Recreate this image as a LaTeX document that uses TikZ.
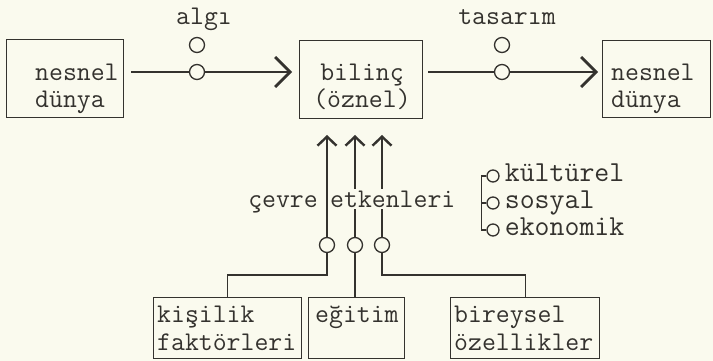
\documentclass[tikz,border=0pt]{standalone}
\usepackage{xcolor}
\usepackage{tikz}
\usetikzlibrary{arrows.meta,positioning}

\definecolor{paper}{RGB}{250,250,238}
\definecolor{ink}{RGB}{52,50,46}

\tikzset{
  box/.style={draw=ink, line width=1.4pt, anchor=north west, inner sep=0pt},
  txt/.style={text=ink, font=\ttfamily\fontsize{27}{28}\selectfont, inner sep=0pt, align=left},
  tag/.style={txt, font=\ttfamily\fontsize{29}{30}\selectfont, text height=17pt, text depth=6pt},
  ring/.style={circle, draw=ink, line width=1.3pt, fill=paper, minimum size=15pt, inner sep=0pt},
  link/.style={draw=ink, line width=1.3pt},
  flow/.style={link, -{Straight Barb[length=15pt,width=30pt,line width=2.8pt]}},
  rise/.style={link, -{Straight Barb[length=9pt,width=19pt,line width=2.4pt]}},
}

\begin{document}
\begin{tikzpicture}[x=1pt,y=-1pt]
\fill[paper] (0,0) rectangle (713,361);
\useasboundingbox (0,0) rectangle (713,361);

% top row
\node[box, minimum width=117pt, minimum height=78pt] (src) at (6,39) {};
\node[box, minimum width=123pt, minimum height=78pt] (mind) at (299,40) {};
\node[box, minimum width=108pt, minimum height=77pt] (dst) at (602,40) {};
\node[txt, anchor=base west] at (35,108) {nesnel\\dünya};
\node[txt, anchor=base, align=center] at (362,108) {bilinç\\(öznel)};
\node[txt, anchor=base west] at (611,108) {nesnel\\dünya};

\node[ring] (al) at (197,72) {};
\node[ring] (al2) at (197,45) {};
\node[txt, anchor=base] at (204,25) {algı};
\node[ring] (ta) at (502,72) {};
\node[ring] (ta2) at (502,45) {};
\node[txt, anchor=base] at (507,25) {tasarım};

\draw[link, shorten <=7pt] (src.east |- al) -- (al);
\draw[flow, shorten >=7pt] (al) -- (al -| mind.west);
\draw[link, shorten <=5pt] (mind.east |- ta) -- (ta);
\draw[flow, shorten >=4pt] (ta) -- (ta -| dst.west);

% influences from below
\node[ring] (c1) at (327,245) {};
\node[ring] (c2) at (355,245) {};
\node[ring] (c3) at (382,245) {};
\coordinate (t1) at (327,135);
\coordinate (t2) at (355,135);
\coordinate (t3) at (382,135);
\draw[rise] (c1) -- (t1);
\draw[rise] (c2) -- (t2);
\draw[rise] (c3) -- (t3);
\node[txt, anchor=base east] (cev) at (318,207) {çevre};
\node[txt, anchor=base west, fill=paper, inner ysep=2pt] (etk) at (330,207) {etkenleri};

\node[box, minimum width=148pt, minimum height=61pt] (kf) at (153,297) {};
\node[box, minimum width=96pt, minimum height=61pt] (eg) at (308,297) {};
\node[box, minimum width=149pt, minimum height=61pt] (bo) at (450,297) {};
\node[txt, anchor=base west] at (157,350) {kişilik\\faktörleri};
\node[txt, anchor=base west] at (315,322) {eğitim};
\node[txt, anchor=base west] at (454,350) {bireysel\\özellikler};

\draw[link] (c1) -- ++(0,30) -| (kf);
\draw[link] (c2) -- (c2 |- eg.north);
\draw[link] (c3) -- ++(0,30) -| (bo);

% kinds of surroundings
\node[ring, minimum size=12pt] (ku) at (493,176) {};
\node[ring, minimum size=12pt] (so) at (493,203) {};
\node[ring, minimum size=12pt] (ek) at (493,230) {};
\draw[link] (ku.west) -- ++(-5,0) |- (ek.west);
\draw[link] (so.west) -- ++(-5,0);
\node[tag, right=5pt of ku] {kültürel};
\node[tag, right=5pt of so] {sosyal};
\node[tag, right=5pt of ek] {ekonomik};
\end{tikzpicture}
\end{document}
